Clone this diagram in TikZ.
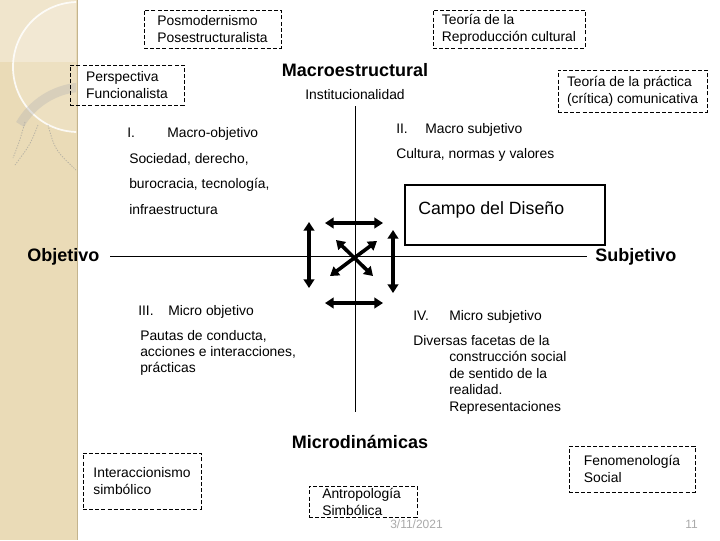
\documentclass[tikz,border=0pt]{standalone}
\usepackage{fontspec}
\setmainfont{Liberation Sans}
\usetikzlibrary{arrows.meta}
\definecolor{strip}{RGB}{234,219,183}
\definecolor{stripedge}{RGB}{196,180,142}
\definecolor{footgray}{RGB}{170,170,170}
\tikzset{
  dbox/.style={draw, dashed, dash pattern=on 3pt off 1.6pt, line width=0.7pt, align=left, inner sep=0pt},
  txt/.style={anchor=west, inner sep=0pt, align=left},
  ltxt/.style={anchor=west, inner sep=0pt, text height=7.6pt, text depth=2.2pt},
  head/.style={font=\fontsize{13.5}{15}\selectfont\bfseries, inner sep=0pt},
  axis/.style={line width=0.75pt},
  darrow/.style={line width=2.7pt, {Triangle[length=6.5pt,width=8pt]}-{Triangle[length=6.5pt,width=8pt]}},
  foot/.style={text=footgray, font=\fontsize{9}{10}\selectfont, inner sep=0pt}
}
\begin{document}
\begin{tikzpicture}[x=0.75pt,y=-0.75pt,font=\fontsize{10.4}{12.6}\selectfont]
\useasboundingbox (0,0) rectangle (720,540);
\fill[white] (0,0) rectangle (720,540);
% left decorative strip
\fill[strip] (0,0) rectangle (78,540);
\begin{scope}
  \clip (0,0) rectangle (76,540);
  \fill[white, opacity=0.3] (0,0) rectangle (76,62);
  \fill[white, opacity=0.15] (78,67) circle (65);
  \draw[white, opacity=0.85, line width=1.3pt] (78,67) circle (65);
  \draw[black!30, opacity=0.35, line width=7pt] (85,162) ++(210:75) arc (210:265:75);
  \draw[black!40, opacity=0.6, line width=0.6pt, dash pattern=on 1pt off 1pt] (25,122) .. controls (20,140) .. (13,158);
  \draw[black!40, opacity=0.6, line width=0.6pt, dash pattern=on 1pt off 1pt] (38,125) .. controls (30,145) .. (15,165);
  \draw[black!40, opacity=0.6, line width=0.6pt, dash pattern=on 1pt off 1pt] (48,125) .. controls (55,150) .. (76,170);
\end{scope}
\draw[stripedge, line width=1.4pt] (77.5,0) -- (77.5,540);

% dashed boxes
\node[dbox, minimum width=137*0.75pt, minimum height=38*0.75pt] (posmo) at (212.5,29) {Posmodernismo\\Posestructuralista};
\node[dbox, minimum width=152*0.75pt, minimum height=38*0.75pt] (repro) at (509,29) {Teoría de la\\Reproducción cultural};
\node[dbox, minimum width=114*0.75pt, minimum height=40*0.75pt] (funci) at (127,85) {Perspectiva\\Funcionalista};
\node[dbox, minimum width=149*0.75pt, minimum height=42*0.75pt] (practica) at (632.5,91) {Teoría de la práctica\\(crítica) comunicativa};
\node[dbox, minimum width=118*0.75pt, minimum height=56*0.75pt] (interac) at (142,481) {Interaccionismo\\simbólico};
\node[dbox, minimum width=108*0.75pt, minimum height=31*0.75pt] (antropo) at (363,501.5) {};
\node[txt, anchor=north west] (antropot) at (322,488) {Antropología\\Simbólica};
\node[dbox, minimum width=126*0.75pt, minimum height=46*0.75pt] (fenom) at (632,469) {Fenomenología\\Social};

% headings
\node[head] (macro) at (355,70) {Macroestructural};
\node[inner sep=0pt] (inst) at (355,95) {Institucionalidad};
\node[head] (microd) at (360,442) {Microdinámicas};
\node[head, anchor=west] (obj) at (27,257) {Objetivo};
\node[head, anchor=west] (subj) at (595,257) {Subjetivo};

% axes
\coordinate (vtop) at (355,106);
\coordinate (vbot) at (355,412);
\coordinate (hleft) at (110,256);
\coordinate (hright) at (587,256);
\draw[axis] (vtop) -- (vbot);
\draw[axis] (hleft) -- (hright);

% quadrant I
\node[ltxt] (q1num) at (127,134) {I.};
\node[ltxt] (q1tit) at (167,134) {Macro-objetivo};
\node[ltxt] (q1a) at (129,160) {Sociedad, derecho,};
\node[ltxt] (q1b) at (129,185) {burocracia, tecnología,};
\node[ltxt] (q1c) at (129,211) {infraestructura};

% quadrant II
\node[ltxt] (q2num) at (396,130) {II.};
\node[ltxt] (q2tit) at (425,130) {Macro subjetivo};
\node[ltxt] (q2a) at (396,155) {Cultura, normas y valores};

% quadrant III
\node[ltxt] (q3num) at (138,312) {III.};
\node[ltxt] (q3tit) at (168,312) {Micro objetivo};
\node[txt, anchor=north west, font=\fontsize{10.4}{12}\selectfont] (q3a) at (140,330) {Pautas de conducta,\\acciones e interacciones,\\prácticas};

% quadrant IV
\node[ltxt] (q4num) at (413,317) {IV.};
\node[ltxt] (q4tit) at (449,317) {Micro subjetivo};
\node[txt, anchor=north west, font=\fontsize{10.4}{12.4}\selectfont] (q4a) at (413,335) {Diversas facetas de la\\\hspace*{27pt}construcción social\\\hspace*{27pt}de sentido de la\\\hspace*{27pt}realidad.\\\hspace*{27pt}Representaciones};

% design field box
\node[draw, line width=2.2pt, minimum width=200*0.75pt, minimum height=60*0.75pt, inner sep=0pt] (campo) at (505,215) {};
\node[ltxt, font=\fontsize{13.3}{15}\selectfont] (campot) at (418,211) {Campo del Diseño};

% arrows
\coordinate (ht1) at (325,223); \coordinate (ht2) at (383,223);
\coordinate (hb1) at (325,303); \coordinate (hb2) at (383,303);
\coordinate (vl1) at (309,222); \coordinate (vl2) at (309,288);
\coordinate (vr1) at (393,230); \coordinate (vr2) at (393,293);
\coordinate (d1a) at (336,240); \coordinate (d1b) at (373,276);
\coordinate (d2a) at (330,276); \coordinate (d2b) at (377,241);
\draw[darrow] (ht1) -- (ht2);
\draw[darrow] (hb1) -- (hb2);
\draw[darrow] (vl1) -- (vl2);
\draw[darrow] (vr1) -- (vr2);
\draw[darrow] (d1a) -- (d1b);
\draw[darrow] (d2a) -- (d2b);

% footer
\node[foot, anchor=west] (fecha) at (390,524) {3/11/2021};
\node[foot, anchor=east] (pagina) at (698,524) {11};
\end{tikzpicture}
\end{document}
